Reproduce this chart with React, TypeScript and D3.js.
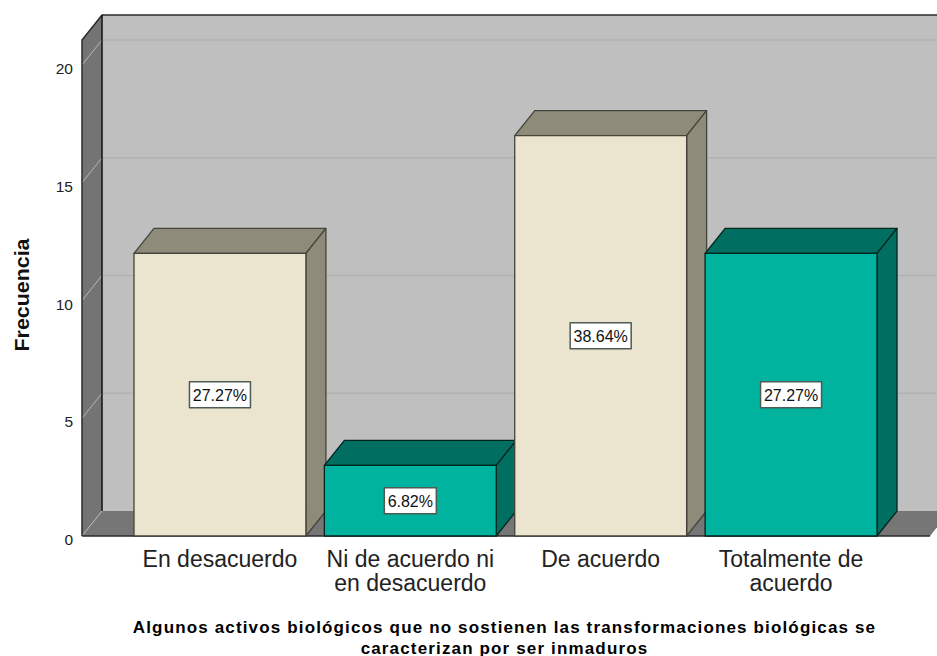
import React from "react";
import * as d3 from "d3";

const categories = ["En desacuerdo", "Ni de acuerdo ni|en desacuerdo", "De acuerdo", "Totalmente de|acuerdo"];
const frequencies = [12, 3, 17, 12];
const percentLabels = ["27.27%", "6.82%", "38.64%", "27.27%"];
const palette = ["cream", "teal", "cream", "teal"];
const yTicks = [0, 5, 10, 15, 20];
const yTitle = "Frecuencia";
const xTitleLines = [
  "Algunos activos biológicos que no sostienen las transformaciones biológicas se",
  "caracterizan por ser inmaduros",
];

const W = 937, H = 656;
const DX = 20, DY = 25;
const FONT = "'Liberation Sans', Arial, sans-serif";
const faces: Record<string, { front: string; side: string; stroke: string }> = {
  cream: { front: "#ebe5cf", side: "#8e8b7a", stroke: "#45443a" },
  teal: { front: "#00b39f", side: "#006f61", stroke: "#00261f" },
};

export default function App() {
  const y = d3.scaleLinear().domain([0, 20]).range([536, 65]);
  const x = d3.scaleBand<string>().domain(categories).range([134, 877]).paddingInner(0.097).paddingOuter(0);
  const bw = x.bandwidth();
  const left = 82, floorRight = 930;
  const backTop = 15, backBottom = y(0) - DY;

  return (
    <svg width={W} height={H} style={{ position: "absolute", left: 0, top: 0, background: "#fff" }} fontFamily={FONT}>
      {/* back wall */}
      <rect x={left + DX} y={backTop} width={W - left - DX} height={backBottom - backTop} fill="#bfbfbf" />
      {/* left wall */}
      <path d={`M${left},${y(0)}L${left},${backTop + DY}L${left + DX},${backTop}L${left + DX},${backBottom}Z`} fill="#747474" />
      {/* floor */}
      <path d={`M${left},${y(0)}L${left + DX},${backBottom}L${floorRight + DX},${backBottom}L${floorRight},${y(0)}Z`} fill="#767676" />
      {/* gridlines */}
      {yTicks.map((t) => (
        <g key={t} fill="none" strokeWidth={1.5}>
          {t > 0 && <line x1={left + DX} x2={W} y1={y(t) - DY} y2={y(t) - DY} stroke="#b2b2b2" />}
          <line x1={left} x2={left + DX} y1={y(t)} y2={y(t) - DY} stroke="#b8b8b8" strokeWidth={1} />
        </g>
      ))}
      {/* frame */}
      <path d={`M${left},${y(0)}L${left},${backTop + DY}L${left + DX},${backTop}L${W},${backTop}`} fill="none" stroke="#2b2b2b" strokeWidth={1.5} />
      <line x1={left + DX} x2={left + DX} y1={backTop} y2={backBottom} stroke="#111" strokeWidth={1.5} />
      <line x1={left} x2={floorRight} y1={y(0)} y2={y(0)} stroke="#2b2b2b" strokeWidth={1.5} />

      {/* bars */}
      {categories.map((c, i) => {
        const bx = x(c)!;
        const by = y(frequencies[i]);
        const b0 = y(0);
        const f = faces[palette[i]];
        const cx = bx + bw / 2;
        const cy = (by + b0) / 2;
        const boxW = percentLabels[i].length > 5 ? 61 : 52;
        return (
          <g key={c} stroke={f.stroke} strokeWidth={1.3} strokeLinejoin="round">
            <path d={`M${bx},${by}L${bx + DX},${by - DY}L${bx + bw + DX},${by - DY}L${bx + bw},${by}Z`} fill={f.side} />
            <path d={`M${bx + bw},${by}L${bx + bw + DX},${by - DY}L${bx + bw + DX},${b0 - DY}L${bx + bw},${b0}Z`} fill={f.side} />
            <rect x={bx} y={by} width={bw} height={b0 - by} fill={f.front} />
            <rect x={cx - boxW / 2} y={cy - 13} width={boxW} height={26} fill="#fff" stroke="#4d5b55" strokeWidth={1.5} />
            <text x={cx} y={cy + 6} textAnchor="middle" fontSize={16} fill="#111" stroke="none">{percentLabels[i]}</text>
          </g>
        );
      })}

      {/* y ticks */}
      {yTicks.map((t) => (
        <text key={t} x={73} y={y(t) + 9} textAnchor="end" fontSize={15.5} fill="#222">{t}</text>
      ))}
      <text transform="translate(29,295) rotate(-90)" textAnchor="middle" fontSize={20} fontWeight={700} fill="#111" textLength={113} lengthAdjust="spacingAndGlyphs">{yTitle}</text>

      {/* x tick labels */}
      {categories.map((c) => (
        <text key={c} textAnchor="middle" fontSize={23} fill="#222">
          {c.split("|").map((line, j) => (
            <tspan key={j} x={x(c)! + bw / 2} y={566.5 + j * 24}>{line}</tspan>
          ))}
        </text>
      ))}

      {/* x title */}
      {xTitleLines.map((line, j) => (
        <text key={j} x={504.5} y={633 + j * 20.5} textAnchor="middle" fontSize={17} fontWeight={700} letterSpacing={1.15} fill="#000">{line}</text>
      ))}
    </svg>
  );
}
